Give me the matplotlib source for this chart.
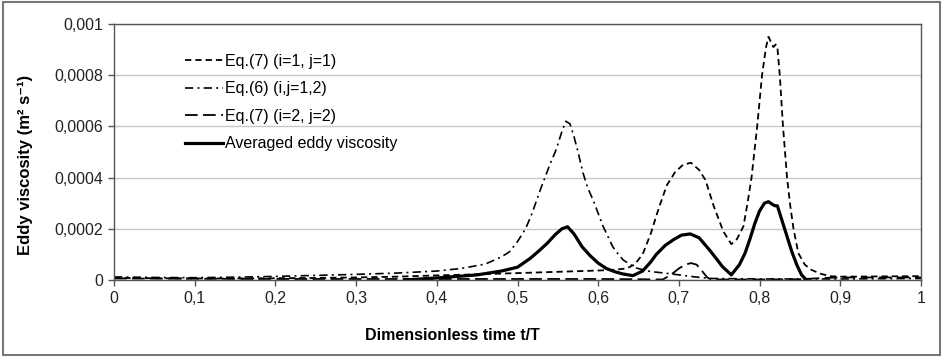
import matplotlib
matplotlib.use("Agg")
import matplotlib.pyplot as plt
from matplotlib.patches import Rectangle
from matplotlib.ticker import FuncFormatter

# Eq.(7) (i=1, j=1)
t_a = [0, 0.05, 0.1, 0.15, 0.2, 0.25, 0.3, 0.35, 0.4, 0.45, 0.5, 0.55, 0.6, 0.62, 0.635,
       0.645, 0.655, 0.665, 0.675, 0.685, 0.695, 0.705, 0.715, 0.725, 0.733, 0.743, 0.755,
       0.765, 0.772, 0.78, 0.785, 0.79, 0.797, 0.803, 0.808, 0.811, 0.814, 0.817, 0.82,
       0.822, 0.825, 0.829, 0.834, 0.838, 0.842, 0.848, 0.856, 0.864, 0.875, 0.887, 0.9,
       0.95, 1.0]
v_a = [0.000008, 0.000007, 0.000006, 0.000006, 0.000007, 0.000008, 0.00001, 0.000013,
       0.000018, 0.000022, 0.000027, 0.000032, 0.000037, 0.00004, 0.000045, 0.00006, 0.0001,
       0.00018, 0.00028, 0.00037, 0.00042, 0.00045, 0.000458, 0.00043, 0.00039, 0.00029,
       0.00019, 0.00014, 0.00016, 0.00021, 0.0003, 0.0004, 0.0006, 0.0008, 0.00091, 0.00095,
       0.00093, 0.00091, 0.00092, 0.00091, 0.0008, 0.0006, 0.0004, 0.00029, 0.0002,
       0.000105, 0.00006, 0.00004, 0.000025, 0.000015, 0.000013, 0.000014, 0.000015]

# Eq.(6) (i,j=1,2)
t_b = [0, 0.05, 0.1, 0.15, 0.2, 0.25, 0.3, 0.35, 0.4, 0.43, 0.46, 0.48, 0.49, 0.5, 0.51,
       0.518, 0.528, 0.54, 0.548, 0.555, 0.56, 0.565, 0.57, 0.575, 0.581, 0.587, 0.594,
       0.6, 0.606, 0.612, 0.618, 0.625, 0.631, 0.64, 0.648, 0.665, 0.685, 0.7, 0.72, 0.74,
       0.8, 0.9, 1.0]
v_b = [0.000012, 0.00001, 0.000009, 0.000011, 0.000014, 0.000018, 0.000022, 0.000027,
       0.000035, 0.000045, 0.000062, 0.00009, 0.00011, 0.00015, 0.0002, 0.00026, 0.00035,
       0.00045, 0.00051, 0.00058, 0.00062, 0.00061, 0.00056, 0.0005, 0.00042, 0.00036,
       0.00031, 0.00026, 0.00021, 0.00017, 0.00013, 0.0001, 0.000078, 0.00006, 0.000046,
       0.000033, 0.000026, 0.00002, 0.000012, 0.000006, 0.000004, 0.000004, 0.000006]

# Eq.(7) (i=2, j=2)
t_c = [0, 0.1, 0.2, 0.3, 0.4, 0.5, 0.6, 0.65, 0.68, 0.69, 0.7, 0.708, 0.715, 0.722, 0.73,
       0.735, 0.74, 0.8, 0.85, 0.88, 0.9, 1.0]
v_c = [0.000006, 0.000005, 0.000004, 0.000004, 0.000004, 0.000004, 0.000004, 0.000003,
       0.000002, 0.00002, 0.000045, 0.00006, 0.000066, 0.00006, 0.00003, 0.00001, 0.000002,
       0.000002, 0.000003, 0.000008, 0.00001, 0.00001]

# Averaged eddy viscosity
t_d = [0.36, 0.4, 0.45, 0.48, 0.5, 0.516, 0.527, 0.537, 0.547, 0.555, 0.562, 0.57, 0.58,
       0.59, 0.6, 0.61, 0.62, 0.63, 0.643, 0.655, 0.665, 0.672, 0.683, 0.693, 0.703, 0.714,
       0.725, 0.738, 0.746, 0.754, 0.765, 0.775, 0.782, 0.788, 0.794, 0.8, 0.806, 0.811,
       0.816, 0.819, 0.822, 0.826, 0.831, 0.836, 0.84, 0.846, 0.852, 0.858]
v_d = [0, 0.000008, 0.00002, 0.000035, 0.00005, 0.000085, 0.000115, 0.000144, 0.000178,
       0.0002, 0.000208, 0.00018, 0.00013, 0.000095, 0.000066, 0.000045, 0.000033, 0.000024,
       0.000017, 0.000035, 0.00007, 0.0001, 0.000135, 0.000157, 0.000175, 0.00018, 0.000165,
       0.000117, 0.000085, 0.000052, 0.00002, 0.00006, 0.000105, 0.00016, 0.00022, 0.00027,
       0.0003, 0.000306, 0.000295, 0.00029, 0.00029, 0.00025, 0.0002, 0.00015, 0.00011,
       0.00006, 0.00002, 0]

x_ticks = [0, 0.1, 0.2, 0.3, 0.4, 0.5, 0.6, 0.7, 0.8, 0.9, 1.0]
y_ticks = [0, 0.0002, 0.0004, 0.0006, 0.0008, 0.001]

plt.rcParams['font.family'] = ['Liberation Sans', 'DejaVu Sans']

fig = plt.figure(figsize=(9.43, 3.57), dpi=100)
ax = fig.add_axes([114 / 943, 1 - 280 / 357, 807 / 943, 256 / 357])

ax.plot(t_a, v_a, color='black', lw=1.3, dashes=(3.5, 2.2), label='Eq.(7) (i=1, j=1)')
ax.plot(t_b, v_b, color='black', lw=1.2, dashes=(5, 2.5, 1.2, 2.5), label='Eq.(6) (i,j=1,2)')
ax.plot(t_c, v_c, color='black', lw=1.3, dashes=(7, 3), label='Eq.(7) (i=2, j=2)')
ax.plot(t_d, v_d, color='black', lw=2.3, label='Averaged eddy viscosity')

ax.set_xlim(0, 1)
ax.set_ylim(0, 0.001)
ax.set_xticks(x_ticks)
ax.set_yticks(y_ticks)
fmt = FuncFormatter(lambda v, p: ('%g' % round(v, 6)).replace('.', ','))
ax.xaxis.set_major_formatter(fmt)
ax.yaxis.set_major_formatter(fmt)
ax.grid(axis='y', color='#c8c8c8', lw=1)
ax.set_axisbelow(True)
for s in ax.spines.values():
    s.set_color('#555555')
    s.set_linewidth(1)
ax.tick_params(length=4, width=1, color='#555555', labelsize=11.5, pad=4, labelcolor='#222222')

ax.set_xlabel('Dimensionless time t/T', fontsize=11.5, fontweight='bold')
ax.xaxis.set_label_coords((452 - 114) / 807, (280 - 328) / 256)
ax.set_ylabel('Eddy viscosity (m² s⁻¹)', fontsize=12, fontweight='bold')
ax.yaxis.set_label_coords((33 - 114) / 807, (280 - 165) / 256)

ax.legend(loc='upper left', bbox_to_anchor=(0.07, 0.94), frameon=False, fontsize=11.5,
          handlelength=2.4, handletextpad=0.1, labelspacing=0.78)

fig.patches.append(Rectangle((0.003, 0.006), 0.994, 0.988, transform=fig.transFigure,
                             fill=False, edgecolor='#777777', lw=1.5))

fig.savefig('out.png', dpi=100)
